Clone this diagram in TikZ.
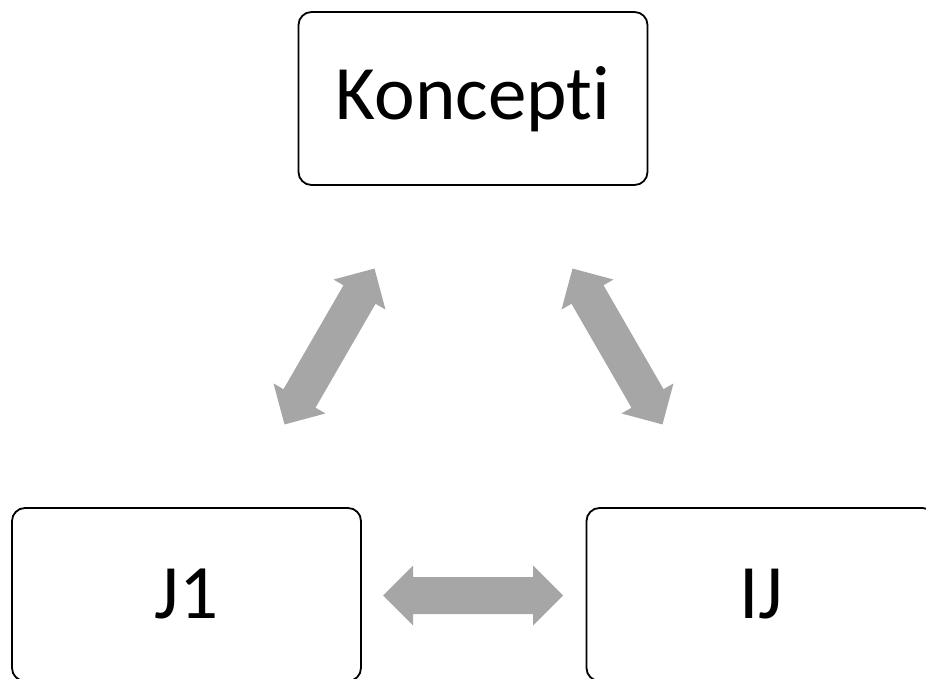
\documentclass[tikz,border=0pt]{standalone}
\usepackage{fontspec}
\setmainfont{Carlito}[Ligatures={NoCommon}]
\definecolor{arrowgray}{HTML}{A6A6A6}
\tikzset{
  box/.style={draw=black, line width=1.8pt, rounded corners=13pt, fill=white,
    minimum width=349pt, minimum height=173pt, inner sep=0pt,
    font=\fontsize{77}{90}\selectfont, text depth=0pt},
  blockarrow/.style={fill=arrowgray, draw=none},
}
\newcommand{\dblarrowpath}{(-90,0) -- (-60,30) -- (-60,18.5) -- (60,18.5) -- (60,30) -- (90,0) -- (60,-30) -- (60,-18.5) -- (-60,-18.5) -- (-60,-30) -- cycle}
\begin{document}
\begin{tikzpicture}[x=1pt, y=-1pt]
  \useasboundingbox (0,0) rectangle (926,679);
  \node[box, text height=43pt] (k) at (473,98.5) {Koncepti};
  \node[box, text height=47pt] (j1) at (186.5,594.5) {J1};
  \node[box, text height=47pt] (ij) at (761,594.5) {IJ};
  \begin{scope}[shift={(329.5,346.5)}, rotate=60]
    \fill[blockarrow] \dblarrowpath;
  \end{scope}
  \begin{scope}[shift={(617.5,346.5)}, rotate=-60]
    \fill[blockarrow] \dblarrowpath;
  \end{scope}
  \begin{scope}[shift={(473,595.5)}]
    \fill[blockarrow] \dblarrowpath;
  \end{scope}
\end{tikzpicture}
\end{document}
